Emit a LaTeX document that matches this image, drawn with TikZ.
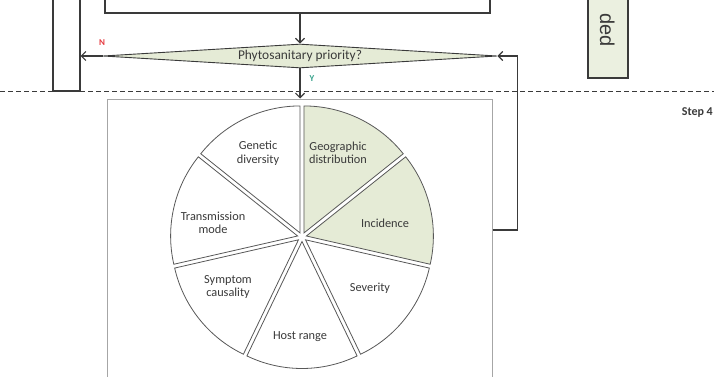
\documentclass[tikz,border=0pt]{standalone}
\usepackage{fontspec}
\setmainfont{Carlito}
\newfontfamily\dedfont{Liberation Sans}
\usetikzlibrary{shapes.geometric,arrows.meta,positioning}
\definecolor{leaf}{HTML}{E5EBD6}
\definecolor{ink}{HTML}{3A3A3A}
\definecolor{noRed}{HTML}{E53A40}
\definecolor{yesGreen}{HTML}{2E9E86}
\tikzset{
  flow/.style={draw=ink,line width=1.2pt,-{Straight Barb[length=4.5pt,width=9pt]}},
  box/.style={draw=ink,line width=1.1pt,rectangle,inner sep=0pt},
  slice/.style={draw=ink!85,line width=0.8pt},
  lbl/.style={font=\fontsize{12.3}{13.5}\selectfont,text=ink,align=center}
}
\begin{document}
\begin{tikzpicture}[x=1pt,y=1pt]
\useasboundingbox (0,0) rectangle (714,376);
\clip (0,0) rectangle (714,376);
% boxes cut by the page edge
\node[box,minimum width=385pt,minimum height=60pt] (topbox) at (297.5,393) {};
\node[box,minimum width=27pt,minimum height=150pt] (leftbox) at (66.5,360) {};
\node[box,fill=leaf!75,minimum width=40pt,minimum height=120pt] (rightbox) at (608,358) {};
\node[rotate=-90,anchor=base east,inner sep=0pt,text=ink,
  font=\dedfont\fontsize{20}{20}\selectfont] (ded) at (600,329) {ded};
% decision
\node[diamond,aspect=16,draw=ink,line width=0.9pt,fill=leaf,minimum width=394pt,
  minimum height=24pt,inner sep=1pt,text=ink,
  font=\fontsize{13.4}{14}\selectfont] (decide) at (300,320) {Phytosanitary priority?};
\node[font=\bfseries\fontsize{9}{9}\selectfont,text=noRed] (no) at (102,333) {N};
\node[font=\bfseries\fontsize{9}{9}\selectfont,text=yesGreen] (yes) at (312,297) {Y};
% step line
\draw[ink,line width=1pt,dash pattern=on 5pt off 3pt] (0,285) -- (714,285);
\node[anchor=east,inner sep=1pt,font=\bfseries\fontsize{12}{12}\selectfont,text=ink] (step) at (714,263) {Step 4};
% criteria pie
\node[draw=gray!70,line width=1pt,minimum width=385pt,minimum height=297pt] (piebox) at (299.5,128.5) {};
\coordinate (pc) at (302,139);
\foreach \i/\txt/\col/\dx/\dy in {0/{Geographic\\distribution}/leaf/36/84,
    1/Incidence/leaf/83/14, 2/Severity/white/68/-51, 3/Host range/white/-2/-100,
    4/{Symptom\\causality}/white/-74/-50, 5/{Transmission\\mode}/white/-89/14,
    6/{Genetic\\diversity}/white/-44/84} {
  \pgfmathsetmacro\a{90-51.4286*(\i+1)}
  \pgfmathsetmacro\b{90-51.4286*\i}
  \pgfmathsetmacro\m{(\a+\b)/2}
  \draw[slice,fill=\col] ([shift={(\m:4.5)}]pc) -- ++(\a:127) arc (\a:\b:127) -- cycle;
  \node[lbl] (crit\i) at ([shift={(\dx,\dy)}]pc) {\txt};
}
% connectors
\draw[flow] (topbox.south -| decide.north) -- (decide.north);
\draw[flow] (decide.west) -- (decide.west -| leftbox.east);
\draw[flow] (decide.south) -- (decide.south |- piebox.north);
\draw[flow] ([yshift=17.5pt]piebox.east) -- ++(25,0) |- (decide.east);
\end{tikzpicture}
\end{document}
